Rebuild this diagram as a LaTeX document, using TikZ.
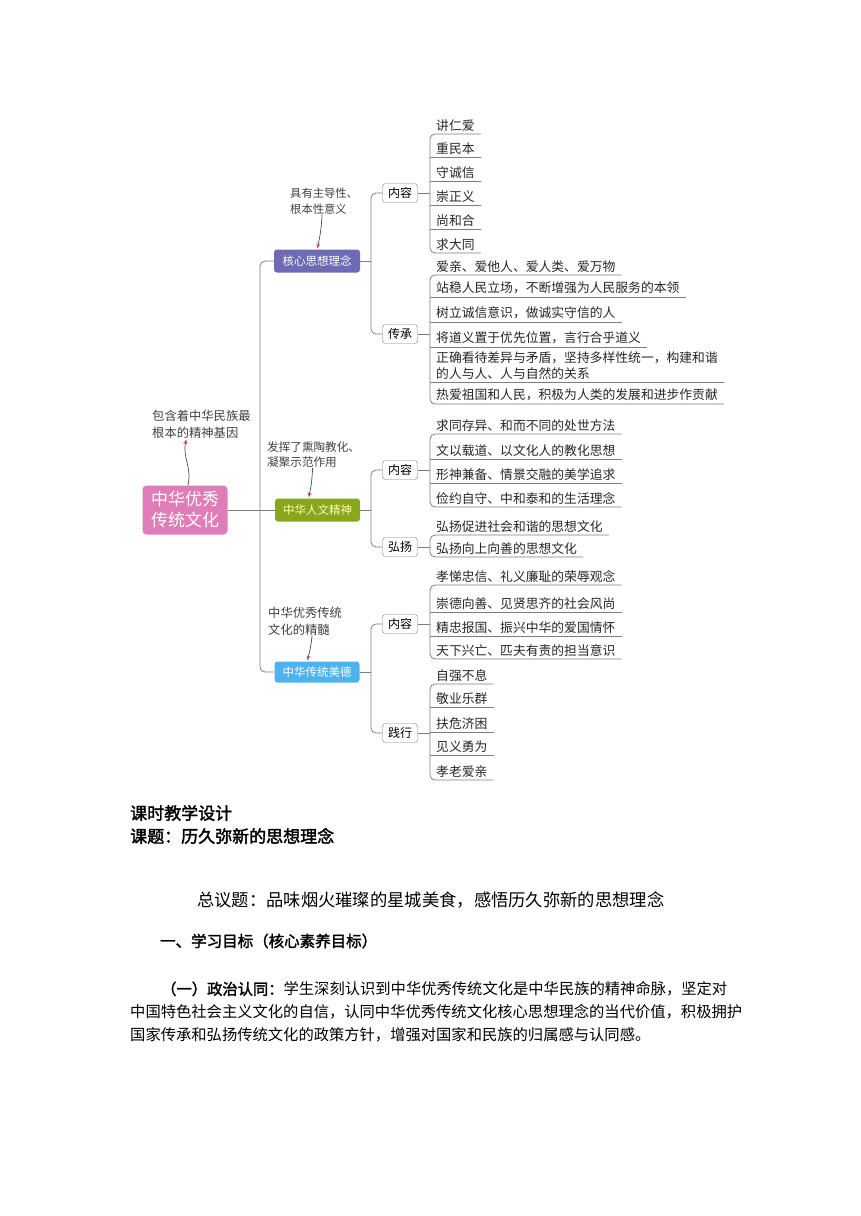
\documentclass[tikz,border=0pt]{standalone}
\usepackage{fontspec}
\setmainfont{Noto Sans CJK SC}[AutoFakeBold=2]
\usepackage{tikz}
\usetikzlibrary{arrows.meta,positioning,calc}

\definecolor{rootpink}{RGB}{224,124,184}
\definecolor{corepurple}{RGB}{110,106,182}
\definecolor{humangreen}{RGB}{136,166,30}
\definecolor{virtueblue}{RGB}{76,178,240}
\definecolor{linegray}{RGB}{125,125,125}
\definecolor{tipred}{RGB}{222,62,112}
\newcommand{\fsz}[2]{\fontsize{#1}{#2}\selectfont}

\begin{document}
\begin{tikzpicture}[x=1pt,y=-1pt,
  root/.style={rounded corners=4pt,fill=rootpink,text=white,minimum width=85pt,minimum height=49pt,inner sep=0pt,align=center,font=\fsz{17}{21}},
  topic/.style={rounded corners=3pt,minimum width=85pt,minimum height=22pt,inner sep=0pt,font=\fsz{11.5}{14}},
  tag/.style={draw=linegray,fill=white,rounded corners=3pt,minimum width=35pt,minimum height=19pt,inner sep=0pt,font=\fsz{12}{14}},
  item/.style={anchor=south west,inner xsep=6pt,inner ysep=2.5pt,align=left,text=black!85,font=\fsz{12.8}{16}},
  note/.style={anchor=west,inner sep=0pt,align=left,text=black!75,font=\fsz{11.8}{16}},
  link/.style={draw=linegray,line width=0.8pt},
  bracket/.style={link,rounded corners=5pt},
  pointer/.style={draw=black!70,line width=0.7pt,shorten >=1pt,-{Stealth[length=5pt,width=4pt,color=tipred]}},
  body/.style={anchor=west,inner sep=0pt,font=\fsz{15.3}{18}}]
\useasboundingbox (0,0) rectangle (860,1216);

% main topics
\node[root] (root) at (185,510) {中华优秀\\传统文化};
\node[topic,fill=corepurple,text=white,minimum width=86pt,minimum height=23pt] (core) at (317,261) {核心思想理念};
\node[topic,fill=humangreen,text=yellow!30,minimum height=23pt] (human) at (317.5,510) {中华人文精神};
\node[topic,fill=virtueblue,text=white,minimum height=21pt] (virtue) at (317,672) {中华传统美德};
\coordinate (trunk) at (260,0);
\coordinate (spine) at (371,0);

% notes
\node[note,font=\fsz{12.3}{17}] (nRoot) at (152,424) {包含着中华民族最\\根本的精神基因};
\node[note,font=\fsz{11.3}{16}] (nCore) at (290,201) {具有主导性、\\根本性意义};
\node[note,font=\fsz{11.6}{15}] (nHuman) at (267,455) {发挥了熏陶教化、\\凝聚示范作用};
\node[note,font=\fsz{12.3}{17}] (nVirtue) at (268,621) {中华优秀传统\\文化的精髓};

% second level
\node[tag] (coreC) at (400,193) {内容};
\node[tag] (coreI) at (400,334) {传承};
\node[tag] (humanC) at (400,470) {内容};
\node[tag] (humanP) at (400,547) {弘扬};
\node[tag] (virtueC) at (400,624) {内容};
\node[tag] (virtueP) at (400,733) {践行};

% core: content
\node[item] (c1) at (430,134) {讲仁爱};
\node[item] (c2) at (430,157) {重民本};
\node[item] (c3) at (430,181) {守诚信};
\node[item] (c4) at (430,205) {崇正义};
\node[item] (c5) at (430,229) {尚和合};
\node[item] (c6) at (430,253) {求大同};
% core: inheritance
\node[item] (i1) at (430,275) {爱亲、爱他人、爱人类、爱万物};
\node[item] (i2) at (430,297) {站稳人民立场，不断增强为人民服务的本领};
\node[item] (i3) at (430,322) {树立诚信意识，做诚实守信的人};
\node[item] (i4) at (430,347) {将道义置于优先位置，言行合乎道义};
\node[item] (i5) at (430,382) {正确看待差异与矛盾，坚持多样性统一，构建和谐\\的人与人、人与自然的关系};
\node[item] (i6) at (430,404) {热爱祖国和人民，积极为人类的发展和进步作贡献};
% human: content
\node[item] (h1) at (430,434) {求同存异、和而不同的处世方法};
\node[item] (h2) at (430,459) {文以载道、以文化人的教化思想};
\node[item] (h3) at (430,483) {形神兼备、情景交融的美学追求};
\node[item] (h4) at (430,507) {俭约自守、中和泰和的生活理念};
% human: promote
\node[item] (p1) at (430,535) {弘扬促进社会和谐的思想文化};
\node[item] (p2) at (430,557) {弘扬向上向善的思想文化};
% virtue: content
\node[item] (v1) at (430,585) {孝悌忠信、礼义廉耻的荣辱观念};
\node[item] (v2) at (430,612) {崇德向善、见贤思齐的社会风尚};
\node[item] (v3) at (430,636) {精忠报国、振兴中华的爱国情怀};
\node[item] (v4) at (430,659) {天下兴亡、匹夫有责的担当意识};
% virtue: practice
\node[item] (k1) at (430,684) {自强不息};
\node[item] (k2) at (430,707) {敬业乐群};
\node[item] (k3) at (430,732) {扶危济困};
\node[item] (k4) at (430,755) {见义勇为};
\node[item] (k5) at (430,780) {孝老爱亲};

% trunk
\draw[link] (root.east) -- (human.west);
\draw[bracket] (core.west) -- (core.west -| trunk) -- (virtue.west -| trunk) -- (virtue.west);
% second level brackets
\draw[link] (core.east) -- (core.east -| spine);
\draw[bracket] (coreC.west) -- (coreC.west -| spine) -- (coreI.west -| spine) -- (coreI.west);
\draw[link] (human.east) -- (human.east -| spine);
\draw[bracket] (humanC.west) -- (humanC.west -| spine) -- (humanP.west -| spine) -- (humanP.west);
\draw[link] (virtue.east) -- (virtue.east -| spine);
\draw[bracket] (virtueC.west) -- (virtueC.west -| spine) -- (virtueP.west -| spine) -- (virtueP.west);

% third level brackets
\draw[link] (coreC.east) -- (coreC.east -| c1.south west);
\draw[bracket] (c1.south east) -- (c1.south west) -- (c6.south west) -- (c6.south east);
\draw[link] (c2.south west) -- (c2.south east);
\draw[link] (c3.south west) -- (c3.south east);
\draw[link] (c4.south west) -- (c4.south east);
\draw[link] (c5.south west) -- (c5.south east);

\draw[link] (coreI.east) -- (coreI.east -| i1.south west);
\draw[bracket] (i1.south east) -- (i1.south west) -- (i6.south west) -- (i6.south east);
\draw[link] (i2.south west) -- (i2.south east);
\draw[link] (i3.south west) -- (i3.south east);
\draw[link] (i4.south west) -- (i4.south east);
\draw[link] (i5.south west) -- (i5.south east);

\draw[link] (humanC.east) -- (humanC.east -| h1.south west);
\draw[bracket] (h1.south east) -- (h1.south west) -- (h4.south west) -- (h4.south east);
\draw[link] (h2.south west) -- (h2.south east);
\draw[link] (h3.south west) -- (h3.south east);

\draw[link] (humanP.east) -- (humanP.east -| p1.south west);
\draw[bracket] (p1.south east) -- (p1.south west) -- (p2.south west) -- (p2.south east);

\draw[link] (virtueC.east) -- (virtueC.east -| v1.south west);
\draw[bracket] (v1.south east) -- (v1.south west) -- (v4.south west) -- (v4.south east);
\draw[link] (v2.south west) -- (v2.south east);
\draw[link] (v3.south west) -- (v3.south east);

\draw[link] (virtueP.east) -- (virtueP.east -| k1.south west);
\draw[bracket] (k1.south east) -- (k1.south west) -- (k5.south west) -- (k5.south east);
\draw[link] (k2.south west) -- (k2.south east);
\draw[link] (k3.south west) -- (k3.south east);
\draw[link] (k4.south west) -- (k4.south east);

% note arrows
\draw[pointer] ([xshift=3pt]root.north) .. controls +(4,-19) and +(-4,20) .. ([xshift=-15pt]nRoot.south);
\draw[pointer] ([xshift=-2pt]nCore.south) to[bend left=5] (core.north);
\draw[pointer] ([xshift=-1pt]nHuman.south) to[bend left=5] ([xshift=-9pt]human.north);
\draw[pointer] ([xshift=7pt]nVirtue.south) to[bend left=5] ([xshift=-10pt]virtue.north);

% text below
\node[body,font=\fsz{17}{20}\bfseries] (t1) at (130,813) {课时教学设计};
\node[body,font=\fsz{17}{20}\bfseries] (t2) at (130,836) {课题：历久弥新的思想理念};
\node[body,font=\fsz{17.3}{20}] (t3) at (197,900) {总议题：品味烟火璀璨的星城美食，感悟历久弥新的思想理念};
\node[body,font=\fsz{15.5}{18}\bfseries] (t4) at (160,941) {一、学习目标（核心素养目标）};
\node[body] (b1) at (161,989) {{\bfseries （一）政治认同：}学生深刻认识到中华优秀传统文化是中华民族的精神命脉，坚定对};
\node[body] (b2) at (130,1012) {中国特色社会主义文化的自信，认同中华优秀传统文化核心思想理念的当代价值，积极拥护};
\node[body] (b3) at (130,1035) {国家传承和弘扬传统文化的政策方针，增强对国家和民族的归属感与认同感。};
\end{tikzpicture}
\end{document}
